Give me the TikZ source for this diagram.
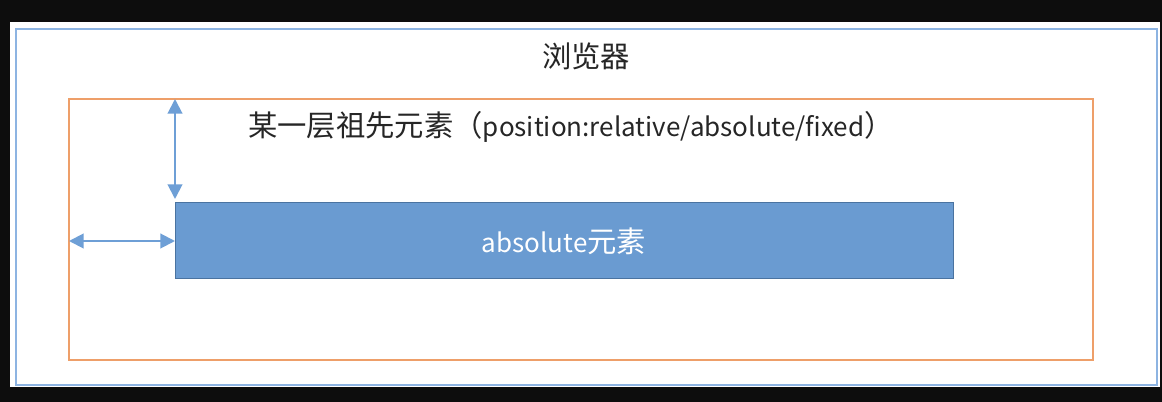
\documentclass[tikz,border=0pt]{standalone}
\usepackage{fontspec}
\setmainfont{Noto Sans CJK SC}
\usetikzlibrary{arrows.meta}
\definecolor{bgblack}{HTML}{0D0D0D}
\definecolor{frameblue}{HTML}{8DB4E2}
\definecolor{ancorange}{HTML}{EE9F69}
\definecolor{boxblue}{HTML}{6A9BD1}
\definecolor{boxedge}{HTML}{4A73A0}
\definecolor{arrblue}{HTML}{6E9FD6}
\definecolor{txtgray}{HTML}{262626}
\newcommand\latn[1]{{\fontsize{19.5}{26}\selectfont #1}}
\tikzset{rect/.style={draw, inner sep=0pt, outer sep=0pt},
  label-font/.style={font=\fontsize{22}{26}\selectfont},
  <->-/.style={arrblue, line width=1.5pt,
    {Triangle[length=11pt,width=11pt]}-{Triangle[length=11pt,width=11pt]}}}

\begin{document}
\begin{tikzpicture}[x=0.75pt, y=-0.75pt]
      \fill [bgblack] (0, 0) rectangle (1162, 402);
      \fill [white] (10, 22) rectangle (1160, 387);
      \useasboundingbox (0, 0) rectangle (1162, 402);

      \node [rect, frameblue, line width=1.5pt, minimum width=855.75pt, minimum height=267pt] (browser) at (586.5, 207) {};
      \node [txtgray, label-font] (browser-label) at (586, 56) {浏览器};

      \node [rect, ancorange, line width=1.5pt, minimum width=768pt, minimum height=195.75pt] (anc) at (581, 229.5) {};
      \node [txtgray, label-font] (anc-label) at (571, 127) {某一层祖先元素（\latn{position:relative/absolute/fixed}）};

      \node [rect, boxedge, fill=boxblue, line width=0.75pt, minimum width=583.5pt, minimum height=57pt,
             text=white, label-font] (box) at (564, 241) {\latn{absolute}元素};

      \draw [<->-, shorten >=3pt] (anc.north -| box.west) -- (box.north west);
      \draw [<->-] (anc.west |- box.west) -- (box.west);
    \end{tikzpicture}
\end{document}
